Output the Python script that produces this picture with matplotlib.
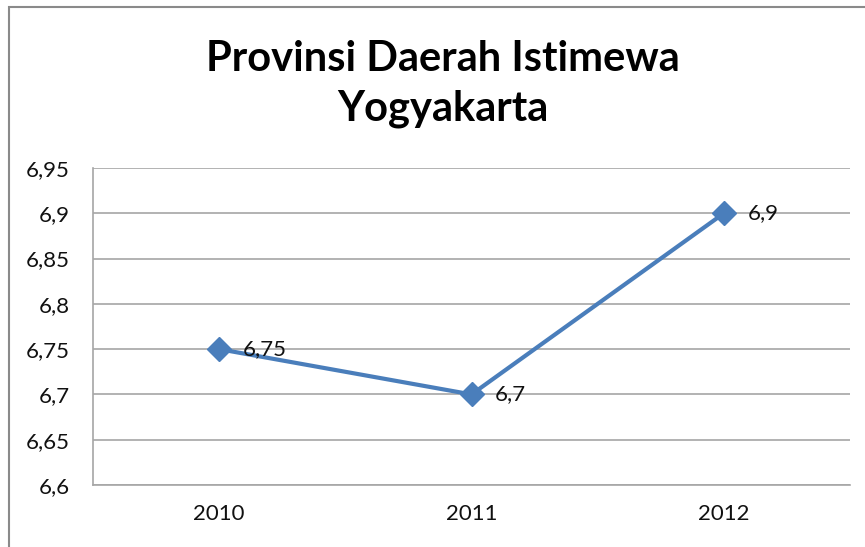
import matplotlib
matplotlib.use("Agg")
import matplotlib.pyplot as plt
from matplotlib.patches import Rectangle
from matplotlib.ticker import FuncFormatter

years = ["2010", "2011", "2012"]
values = [6.75, 6.7, 6.9]
labels = ["6,75", "6,7", "6,9"]
yticks = [6.6, 6.65, 6.7, 6.75, 6.8, 6.85, 6.9, 6.95]

plt.rcParams['font.family'] = ['Lato', 'DejaVu Sans']

fig = plt.figure(figsize=(8.65, 5.47), dpi=100)
# grey frame round the chart
fig.patches.append(Rectangle((9/865, -0.05), 1.2, 1.05 - 6.5/547, transform=fig.transFigure,
                             fill=False, edgecolor="#8a8a8a", lw=1.5))
ax = fig.add_axes([93/865, 1-485/547, (850-93)/865, (485-168)/547])

x = range(len(years))
ax.plot(x, values, color="#4a7ebb", lw=3, marker="D", ms=12, zorder=5)
for xi, v, lab in zip(x, values, labels):
    ax.annotate(lab, (xi, v), xytext=(17, 0), textcoords="offset points",
                ha="left", va="center", fontsize=16, color="#111111", zorder=6)

ax.set_xlim(-0.5, len(years) - 0.5)
ax.set_ylim(6.6, 6.95)
ax.set_yticks(yticks)
ax.yaxis.set_major_formatter(FuncFormatter(lambda v, p: f"{v:g}".replace(".", ",")))
ax.set_xticks(list(x))
ax.set_xticklabels(years)
ax.tick_params(length=0, labelsize=16, colors="#111111")
ax.tick_params(axis="y", pad=17)
ax.tick_params(axis="x", pad=14)
ax.grid(axis="y", color="#a6a6a6", lw=1.2)
ax.set_axisbelow(True)
for s in ["top", "right"]:
    ax.spines[s].set_visible(False)
for s in ["left", "bottom"]:
    ax.spines[s].set_color("#a6a6a6")
    ax.spines[s].set_linewidth(1.2)

fig.text(443/865, 1-84/547, "Provinsi Daerah Istimewa\nYogyakarta", ha="center", va="center",
         fontsize=30, fontweight="bold", linespacing=1.35)

fig.savefig("out.png", dpi=100)
